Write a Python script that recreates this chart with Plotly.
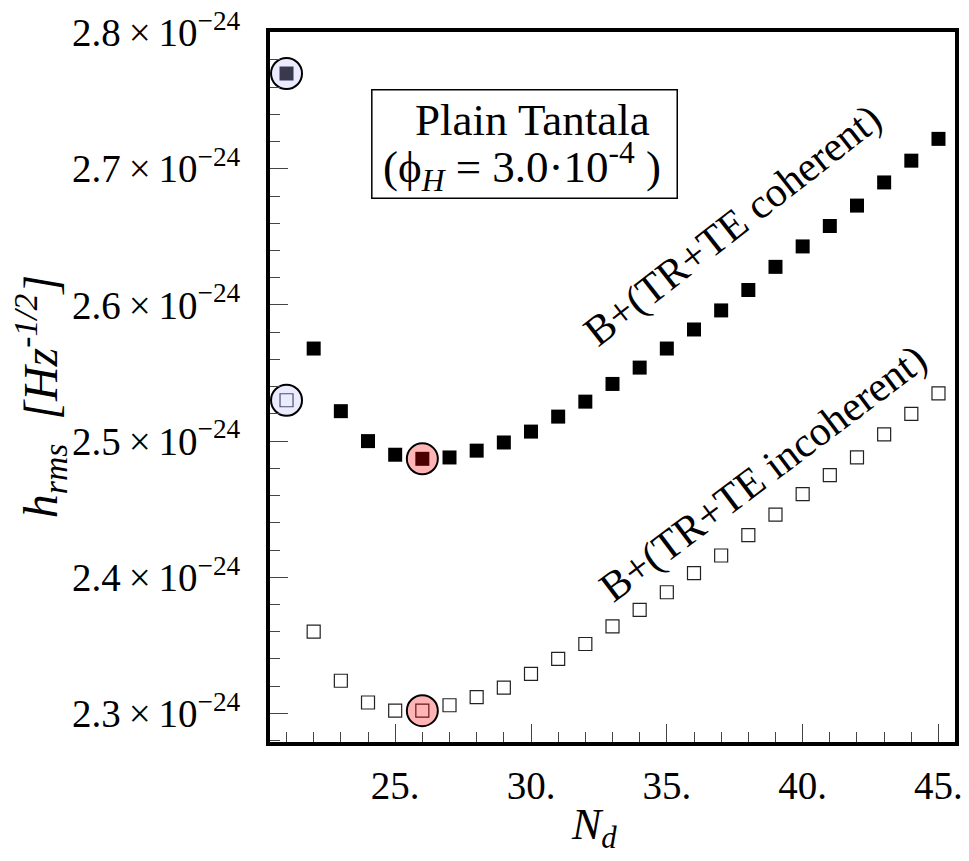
import plotly.graph_objects as go

# ---- data (h_rms in units of 1e-24 Hz^-1/2) ----
n_layers = list(range(21, 46))
hrms_coherent = [2.770, 2.568, 2.522, 2.500, 2.490, 2.487, 2.488, 2.493, 2.499, 2.507,
                 2.518, 2.529, 2.542, 2.554, 2.568, 2.582, 2.596, 2.611, 2.628, 2.643,
                 2.658, 2.673, 2.690, 2.706, 2.722]
hrms_incoherent = [2.530, 2.360, 2.324, 2.308, 2.302, 2.302, 2.306, 2.312, 2.319, 2.329,
                   2.340, 2.351, 2.364, 2.376, 2.389, 2.403, 2.416, 2.431, 2.446, 2.461,
                   2.475, 2.488, 2.505, 2.520, 2.535]
x_tick_vals = [25, 30, 35, 40, 45]
x_tick_text = ["25.", "30.", "35.", "40.", "45."]
y_tick_vals = [2.3, 2.4, 2.5, 2.6, 2.7, 2.8]
y_tick_text = ["2.3\u2009×\u200910<sup>−24</sup>", "2.4\u2009×\u200910<sup>−24</sup>",
               "2.5\u2009×\u200910<sup>−24</sup>", "2.6\u2009×\u200910<sup>−24</sup>",
               "2.7\u2009×\u200910<sup>−24</sup>", "2.8\u2009×\u200910<sup>−24</sup>"]
start_idx = 0          # N_d = 21 (highlighted in lavender)
opt_idx = n_layers.index(26)  # optimum (highlighted in red)

FONT = "Liberation Serif, Times New Roman, serif"

fig = go.Figure()
fig.add_trace(go.Scatter(x=n_layers, y=hrms_coherent, mode="markers",
                         marker=dict(symbol="square", size=14, color="black",
                                     line=dict(width=0))))
fig.add_trace(go.Scatter(x=n_layers, y=hrms_incoherent, mode="markers",
                         marker=dict(symbol="square-open", size=13, color="#222",
                                     line=dict(width=1.2, color="#222"))))
# highlight circles (semi-transparent, drawn on top)
fig.add_trace(go.Scatter(x=[n_layers[start_idx], n_layers[start_idx]],
                         y=[hrms_coherent[start_idx], hrms_incoherent[start_idx]],
                         mode="markers",
                         marker=dict(symbol="circle", size=31, color="rgba(190,190,255,0.3)",
                                     line=dict(width=2, color="black"))))
fig.add_trace(go.Scatter(x=[n_layers[opt_idx], n_layers[opt_idx]],
                         y=[hrms_coherent[opt_idx], hrms_incoherent[opt_idx]],
                         mode="markers",
                         marker=dict(symbol="circle", size=31, color="rgba(255,0,0,0.29)",
                                     line=dict(width=2, color="black"))))

fig.update_layout(
    width=969, height=861,
    margin=dict(l=270, r=6, t=29, b=119),
    plot_bgcolor="white", paper_bgcolor="white",
    showlegend=False,
    font=dict(family=FONT, color="black"),
    xaxis=dict(range=[20.392, 45.608], tickmode="array", tickvals=x_tick_vals,
               ticktext=x_tick_text, ticks="inside", ticklen=18, tickwidth=1,
               tickcolor="#444", tickfont=dict(size=39, family=FONT),
               minor=dict(dtick=1, tick0=0, ticks="inside", ticklen=10,
                          tickwidth=1, tickcolor="#444"),
               showgrid=False, zeroline=False, showline=True, linewidth=4,
               linecolor="black", mirror=True, ticklabelstandoff=6),
    yaxis=dict(range=[2.279, 2.8005], tickmode="array", tickvals=y_tick_vals,
               ticktext=y_tick_text, ticks="inside", ticklen=18, tickwidth=1,
               tickcolor="#444", tickfont=dict(size=39, family=FONT),
               minor=dict(dtick=0.02, tick0=2.3, ticks="inside", ticklen=10,
                          tickwidth=1, tickcolor="#444"),
               showgrid=False, zeroline=False, showline=True, linewidth=4,
               linecolor="black", mirror=True, ticklabelstandoff=18),
)

def px2paper(px, py):
    return (px - 270) / 693.0, (742 - py) / 713.0

# info box
bx0, by0 = px2paper(373, 196)
bx1, by1 = px2paper(682, 87)
fig.add_shape(type="rect", xref="paper", yref="paper", x0=bx0, y0=by0, x1=bx1, y1=by1,
              line=dict(color="black", width=1.5), fillcolor="white", layer="above")

annots = []
x, y = px2paper(536, 117)
annots.append(dict(text="Plain Tantala", x=x, y=y, font=dict(size=45)))
x, y = px2paper(525, 164)
annots.append(dict(text="(ϕ<sub><i>H</i></sub> = 3.0·10<sup>-4</sup> )", x=x, y=y,
                   font=dict(size=45)))
x, y = px2paper(738, 223)
annots.append(dict(text="B+(TR+TE coherent)", x=x, y=y, textangle=-38, font=dict(size=42)))
x, y = px2paper(769, 472)
annots.append(dict(text="B+(TR+TE incoherent)", x=x, y=y, textangle=-37, font=dict(size=42)))
x, y = px2paper(38, 395)
annots.append(dict(text="<i>h</i><sub><i>rms</i></sub>  <i>[Hz<sup>-1/2</sup>]</i>", x=x, y=y,
                   textangle=-90, font=dict(size=48)))
x, y = px2paper(598, 828)
annots.append(dict(text="<i>N</i><sub><i>d</i></sub>", x=x, y=y, font=dict(size=44)))

for a in annots:
    fig.add_annotation(xref="paper", yref="paper", showarrow=False,
                       xanchor="center", yanchor="middle",
                       font=dict(family=FONT, color="black", size=a["font"]["size"]),
                       text=a["text"], x=a["x"], y=a["y"],
                       textangle=a.get("textangle", 0))

fig.write_html("out.html")
